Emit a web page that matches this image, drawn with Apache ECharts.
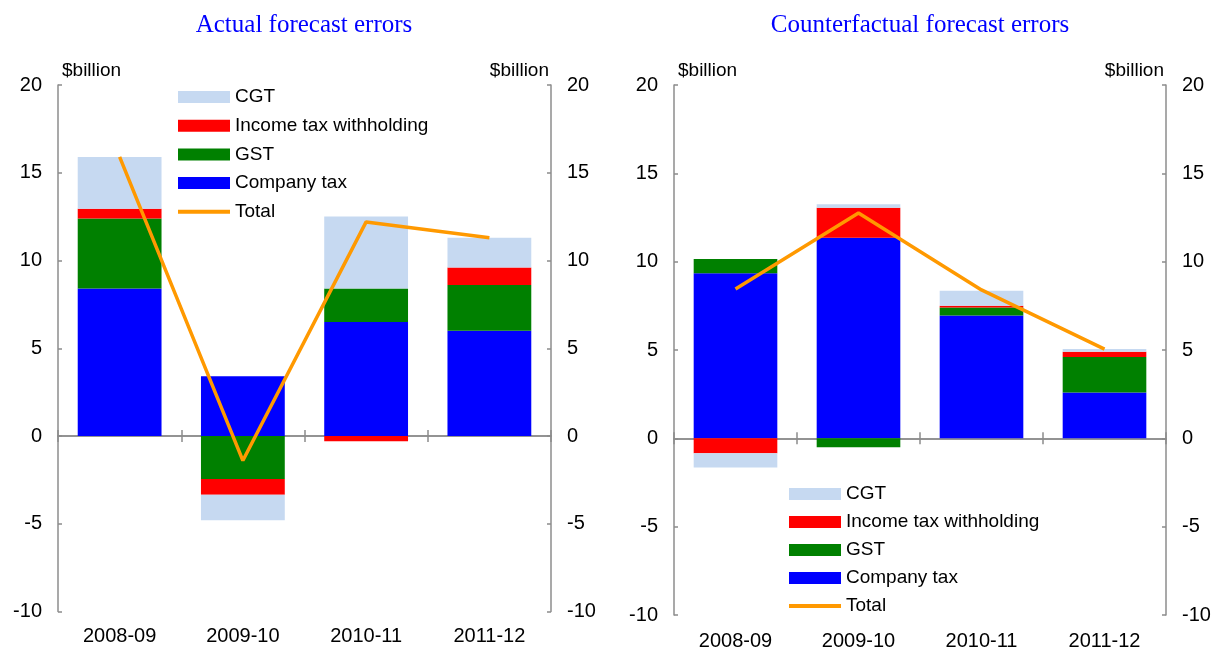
<!DOCTYPE html>
<html>
<head>
<meta charset="utf-8">
<script src="https://cdn.jsdelivr.net/npm/echarts@6/dist/echarts.min.js"></script>
<style>
html,body{margin:0;padding:0;background:#fff;}
#chart{width:1224px;height:653px;}
</style>
</head>
<body>
<div id="chart"></div>
<script>
// ---- Data ----
const categories = ['2008-09', '2009-10', '2010-11', '2011-12'];
const barNames = ['CGT', 'Income tax withholding', 'GST', 'Company tax'];
const lineName = 'Total';

const actualCompany = [8.4, 3.4, 6.5, 6.0];
const actualGST = [4.0, -2.45, 1.9, 2.6];
const actualIncome = [0.55, -0.9, -0.3, 1.0];
const actualCGT = [2.95, -1.45, 4.1, 1.7];
const actualTotal = [15.9, -1.4, 12.2, 11.3];

const cfCompany = [9.35, 11.35, 6.95, 2.6];
const cfGST = [0.8, -0.5, 0.45, 2.0];
const cfIncome = [-0.85, 1.7, 0.1, 0.3];
const cfCGT = [-0.8, 0.2, 0.85, 0.15];
const cfTotal = [8.45, 12.75, 8.4, 5.05];

const yTicks = { min: -10, max: 20, interval: 5 };

// ---- Styles ----
const FONT = 'Liberation Sans';
const colors = { cgt: '#C6D9F1', income: '#FF0000', gst: '#008000', company: '#0000FF', total: '#FF9900' };
const axisGrey = '#8C8C8C';

function yAxes(gridIndex) {
  const base = {
    type: 'value', gridIndex, min: yTicks.min, max: yTicks.max, interval: yTicks.interval,
    splitLine: { show: false },
    axisLine: { show: true, lineStyle: { color: axisGrey, width: 1.5 } },
    axisTick: { show: true, inside: true, length: 4, lineStyle: { color: axisGrey, width: 1.5 } },
    axisLabel: { color: '#000', fontFamily: FONT, fontSize: 20, margin: 16 },
    name: '$billion',
    nameLocation: 'end',
    nameGap: 5,
  };
  return [
    Object.assign({}, base, { position: 'left', nameTextStyle: { color: '#000', fontFamily: FONT, fontSize: 19, align: 'left', padding: [0, 0, 0, 4] } }),
    Object.assign({}, base, { position: 'right', nameTextStyle: { color: '#000', fontFamily: FONT, fontSize: 19, align: 'right', padding: [0, 2, 0, 0] } })
  ];
}

function xAxes(gridIndex, yIdx0, labelMargin) {
  return [
    // labels only, at the bottom of the plot
    {
      type: 'category', gridIndex, data: categories, position: 'bottom',
      axisLine: { show: false, onZero: false },
      axisTick: { show: false },
      axisLabel: { color: '#000', fontFamily: FONT, fontSize: 20, margin: labelMargin }
    },
    // zero line with ticks pointing down
    {
      type: 'category', gridIndex, data: categories, position: 'bottom',
      axisLine: { show: true, onZero: true, onZeroAxisIndex: yIdx0, lineStyle: { color: axisGrey, width: 1.5 } },
      axisTick: { show: true, length: 6, lineStyle: { color: axisGrey, width: 1.5 } },
      axisLabel: { show: false }
    },
    // zero line with ticks pointing up
    {
      type: 'category', gridIndex, data: categories, position: 'top',
      axisLine: { show: true, onZero: true, onZeroAxisIndex: yIdx0 + 1, lineStyle: { color: axisGrey, width: 1.5 } },
      axisTick: { show: true, length: 6, lineStyle: { color: axisGrey, width: 1.5 } },
      axisLabel: { show: false }
    }
  ];
}

function barSeries(name, data, color, xIdx, yIdx, stack) {
  return {
    name, type: 'bar', data, stack, xAxisIndex: xIdx, yAxisIndex: yIdx,
    barWidth: '68%',
    itemStyle: { color },
    emphasis: { disabled: true },
    z: 2
  };
}
function lineSeries(name, data, xIdx, yIdx) {
  return {
    name, type: 'line', data, xAxisIndex: xIdx, yAxisIndex: yIdx,
    symbol: 'none',
    lineStyle: { color: colors.total, width: 3.5 },
    itemStyle: { color: colors.total },
    emphasis: { disabled: true },
    z: 5
  };
}

const legendText = { color: '#000', fontFamily: FONT, fontSize: 19, lineHeight: 20 };
function legends(left, top, step) {
  return [
    {
      orient: 'vertical', left, top, padding: 0,
      data: barNames.map(n => ({ name: n, icon: 'rect' })),
      itemWidth: 52, itemHeight: 12, itemGap: step - 20,
      selectedMode: false,
      textStyle: legendText
    },
    {
      orient: 'vertical', left, top: top + 4 * step, padding: 0,
      data: [{ name: lineName, icon: 'rect' }],
      itemWidth: 52, itemHeight: 4,
      selectedMode: false,
      textStyle: legendText
    }
  ];
}

const option = {
  animation: false,
  backgroundColor: '#fff',
  title: [
    { text: 'Actual forecast errors', left: 299, top: 8, textAlign: 'center',
      textStyle: { color: '#0000FF', fontFamily: 'Liberation Serif', fontSize: 25, fontWeight: 'normal' } },
    { text: 'Counterfactual forecast errors', left: 915, top: 8, textAlign: 'center',
      textStyle: { color: '#0000FF', fontFamily: 'Liberation Serif', fontSize: 25, fontWeight: 'normal' } }
  ],
  legend: [].concat(legends(178, 87, 28.7), legends(789, 484, 28)),
  grid: [
    { left: 58, right: 673, top: 85, bottom: 41.5, containLabel: false, outerBoundsMode: 'none' },
    { left: 674, right: 58, top: 85, bottom: 38, containLabel: false, outerBoundsMode: 'none' }
  ],
  xAxis: [].concat(xAxes(0, 0, 15), xAxes(1, 2, 16)),
  yAxis: [].concat(yAxes(0), yAxes(1)),
  series: [
    barSeries('Company tax', actualCompany, colors.company, 0, 0, 'a'),
    barSeries('GST', actualGST, colors.gst, 0, 0, 'a'),
    barSeries('Income tax withholding', actualIncome, colors.income, 0, 0, 'a'),
    barSeries('CGT', actualCGT, colors.cgt, 0, 0, 'a'),
    lineSeries(lineName, actualTotal, 0, 0),
    barSeries('Company tax', cfCompany, colors.company, 3, 2, 'b'),
    barSeries('GST', cfGST, colors.gst, 3, 2, 'b'),
    barSeries('Income tax withholding', cfIncome, colors.income, 3, 2, 'b'),
    barSeries('CGT', cfCGT, colors.cgt, 3, 2, 'b'),
    lineSeries(lineName, cfTotal, 3, 2)
  ]
};

const chart = echarts.init(document.getElementById('chart'), null, { renderer: 'canvas' });
chart.setOption(option);
</script>
</body>
</html>
